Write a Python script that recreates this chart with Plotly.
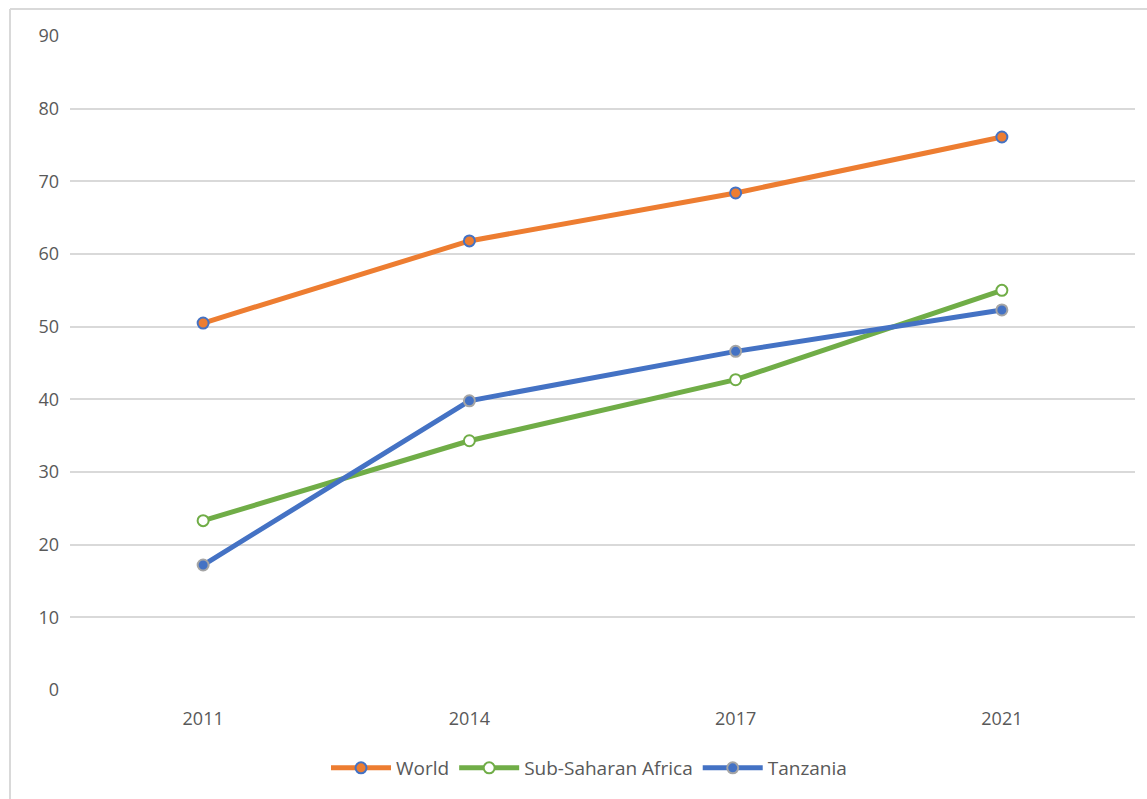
import plotly.graph_objects as go

years = ["2011", "2014", "2017", "2021"]
world = [50.5, 61.8, 68.4, 76.1]
ssa = [23.3, 34.3, 42.7, 55.0]
tanzania = [17.2, 39.8, 46.6, 52.3]

W, H = 1147, 799
L, R, T, B = 70, 12, 36, 109

fig = go.Figure()

fig.add_trace(go.Scatter(
    x=years, y=world, name="World", mode="lines+markers",
    line=dict(color="#ED7D31", width=5),
    marker=dict(size=11, color="#ED7D31", line=dict(color="#4472C4", width=2)),
))
fig.add_trace(go.Scatter(
    x=years, y=ssa, name="Sub-Saharan Africa", mode="lines+markers",
    line=dict(color="#70AD47", width=5),
    marker=dict(size=11, color="white", line=dict(color="#70AD47", width=2)),
))
fig.add_trace(go.Scatter(
    x=years, y=tanzania, name="Tanzania", mode="lines+markers",
    line=dict(color="#4472C4", width=5),
    marker=dict(size=11, color="#4472C4", line=dict(color="#A5A5A5", width=2)),
))

pw = W - L - R
ph = H - T - B
def px_x(p):
    return (p - L) / pw
def px_y(p):
    return (H - B - p) / ph

# outer chart frame (left and top edges)
frame = dict(color="#D9D9D9", width=2)
fig.add_shape(type="line", xref="paper", yref="paper",
              x0=px_x(10), x1=px_x(W), y0=px_y(9), y1=px_y(9), line=frame)
fig.add_shape(type="line", xref="paper", yref="paper",
              x0=px_x(10), x1=px_x(10), y0=px_y(9), y1=px_y(H), line=frame)

fig.update_layout(
    width=W, height=H,
    margin=dict(l=L, r=R, t=T, b=B),
    paper_bgcolor="white", plot_bgcolor="white",
    font=dict(family="Open Sans, Liberation Sans, sans-serif", size=18, color="#595959"),
    showlegend=True,
    legend=dict(orientation="h", x=px_x(589), xanchor="center",
                y=px_y(768), yanchor="middle",
                font=dict(size=19, color="#595959"), itemwidth=60,
                bgcolor="rgba(0,0,0,0)"),
    xaxis=dict(type="category", showgrid=False, zeroline=False, showline=False,
               ticks="", range=[-0.5, 3.5], tickfont=dict(size=18), ticklabelstandoff=16),
    yaxis=dict(range=[0, 90], dtick=10, showgrid=True, gridcolor="#D9D9D9",
               gridwidth=1.5, zeroline=False, showline=False, ticks="",
               tickfont=dict(size=18), ticklabelstandoff=10),
)

fig.write_html("out.html")
